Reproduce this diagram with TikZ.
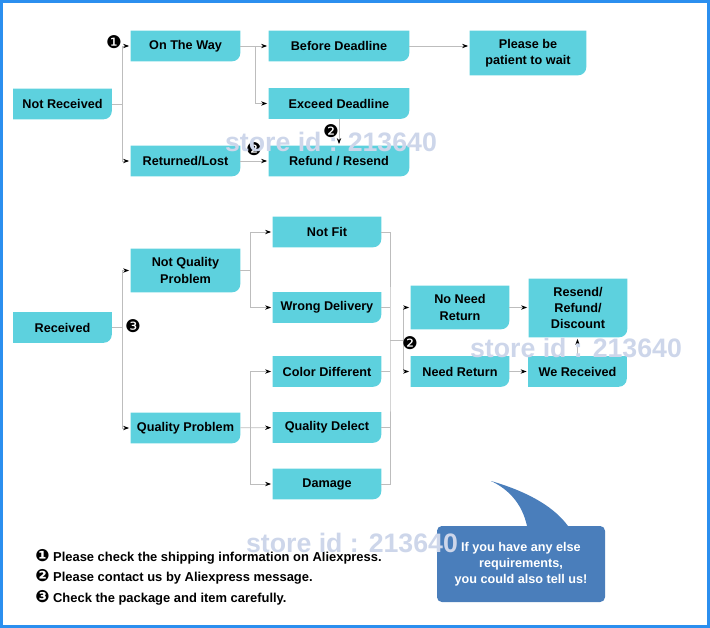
\documentclass[tikz,border=0pt]{standalone}
\usepackage{fontspec}
\setmainfont{Liberation Sans}
\newfontfamily\dingfont{DejaVu Sans}
\usetikzlibrary{arrows.meta, positioning, calc, backgrounds}

\definecolor{boxcyan}{HTML}{5DD1DE}
\definecolor{frameblue}{HTML}{2B8FEF}
\definecolor{bubblue}{HTML}{4A7EBB}
\definecolor{linegray}{HTML}{BDBDBD}
\definecolor{wmark}{HTML}{CDD6EA}

\newcommand{\one}{{\dingfont\char"2776}}
\newcommand{\two}{{\dingfont\char"2777}}
\newcommand{\three}{{\dingfont\char"2778}}

\begin{document}
\begin{tikzpicture}[
    x=0.25mm, y=-0.25mm,
    box/.style={inner sep=0pt, align=center, minimum height=7.5mm,
                font=\bfseries\fontsize{9}{11.5}\selectfont},
    nbox/.style={box, minimum width=24.5mm},
    mbox/.style={box, minimum width=27.25mm},
    wbox/.style={box, minimum width=35mm},
    conn/.style={draw=linegray, line width=0.6pt},
    arr/.style={conn, -{Stealth[length=1.5mm, width=1.1mm, color=black]}, shorten >=0.4mm},
    num/.style={inner sep=0pt, font=\fontsize{12.5}{12.5}\selectfont},
    note/.style={anchor=west, inner sep=0pt, font=\bfseries\fontsize{9.2}{11}\selectfont},
    wm/.style={text=wmark, font=\bfseries\fontsize{19}{19}\selectfont},
]
\useasboundingbox (0,0) rectangle (710,628);
\draw[frameblue, line width=0.75mm] (1.5,1.5) rectangle (708.5,626.5);

% not received
\node[nbox] (nr)  at (62.5,104)  {Not Received};
\node[mbox] (otw) at (185.5,46)  {On The Way};
\node[mbox] (rl)  at (185.5,161) {Returned/Lost};
\node[wbox] (bd)  at (339,46)    {Before Deadline};
\node[wbox] (ed)  at (339,103.5) {Exceed Deadline};
\node[wbox] (rr)  at (339,161)   {Refund / Resend};
\node[box, minimum width=29mm, minimum height=11mm] (pat) at (528,53) {Please be\\patient to wait};

% received
\node[nbox] (rcv) at (62.5,327.5) {Received};
\node[mbox, minimum height=10.75mm] (nqp) at (185.5,270.5) {Not Quality\\Problem};
\node[mbox] (qp)  at (185.5,428) {Quality Problem};
\node[box, minimum width=27mm] (nf) at (327,232)   {Not Fit};
\node[box, minimum width=27mm] (wd) at (327,307.5) {Wrong Delivery};
\node[box, minimum width=27mm] (cd) at (327,371.5) {Color Different};
\node[box, minimum width=27mm] (qd) at (327,427.5) {Quality Delect};
\node[box, minimum width=27mm] (dm) at (327,484)   {Damage};
\node[nbox, minimum height=10.75mm] (nnr) at (460,307.5) {No Need\\Return};
\node[nbox] (ndr) at (460,371.5) {Need Return};
\node[nbox, minimum height=14.5mm] (rrd) at (578,308) {Resend/\\Refund/\\Discount};
\node[nbox] (wr)  at (577.5,371.5) {We Received};

\begin{scope}[on background layer]
  \foreach \n in {nr,otw,rl,bd,ed,rr,pat,rcv,nqp,qp,nf,wd,cd,qd,dm,nnr,ndr,rrd,wr}
    \fill[boxcyan] (\n.south west) -- (\n.north west) -- (\n.north east)
      -- ([yshift=2mm]\n.south east) arc[start angle=0, end angle=-90, radius=2mm] -- cycle;
\end{scope}

% connectors, top part
\coordinate (j1) at (122,104);
\coordinate (j2) at (255,46);
\draw[conn] (nr) -- (j1);
\draw[arr] (j1) |- (otw);
\draw[arr] (j1) |- (rl);
\draw[arr] (otw) -- (bd);
\draw[arr] (j2) |- (ed);
\draw[arr] (bd) -- (bd -| pat.west);
\draw[arr] (ed) -- (rr);
\draw[arr] (rl) -- (rr);
\node[num] (n1a) at (114,42) {\one};
\node[num] (n2a) at (331,131) {\two};
\node[num] (n2b) at (254,149) {\two};

% connectors, lower part
\coordinate (j3) at (122,327.5);
\coordinate (j4) at (250,270.5);
\coordinate (j5) at (250,428);
\coordinate (j6) at (390,340);
\coordinate (j7) at (403,340);
\draw[conn] (rcv) -- (j3);
\draw[arr] (j3) |- (nqp);
\draw[arr] (j3) |- (qp);
\draw[conn] (nqp) -- (j4);
\draw[arr] (j4) |- (nf);
\draw[arr] (j4) |- (wd);
\draw[arr] (qp) -- (qd);
\draw[arr] (j5) |- (cd);
\draw[arr] (j5) |- (dm);
\draw[conn] (nf.east) -| (j6) |- (dm.east);
\foreach \n in {wd,cd,qd}
  \draw[conn] (\n.east) -- (\n.east -| j6);
\draw[conn] (j6) -- (j7);
\draw[arr] (j7) |- (nnr);
\draw[arr] (j7) |- (ndr);
\draw[arr] (nnr) -- (nnr -| rrd.west);
\draw[arr] (ndr) -- (wr);
\draw[arr] (wr) -- (wr |- rrd.south);
\node[num] (n3) at (133,326) {\three};
\node[num] (n2c) at (410,343) {\two};

% speech bubble
\node[fill=bubblue, rounded corners=1.2mm, minimum width=42mm, minimum height=19mm,
      text=white, align=center, inner sep=0pt,
      font=\bfseries\fontsize{9}{11.5}\selectfont] (bub) at (521,564)
      {If you have any else\\requirements,\\you could also tell us!};
\fill[bubblue] (527,526) .. controls (522,503) and (508,489) .. (491,481)
  .. controls (522,490) and (552,504) .. (568,526) -- cycle;

% notes
\node[note] (t1) at (35,557) {{\fontsize{12}{12}\selectfont\one} Please check the shipping information on Aliexpress.};
\node[note] (t2) at (35,577) {{\fontsize{12}{12}\selectfont\two} Please contact us by Aliexpress message.};
\node[note] (t3) at (35,598) {{\fontsize{12}{12}\selectfont\three} Check the package and item carefully.};

% watermarks
\node[wm] (w1) at (331,142) {store id : 213640};
\node[wm] (w2) at (576,348) {store id : 213640};
\node[wm] (w3) at (352,543) {store id : 213640};
\end{tikzpicture}
\end{document}
